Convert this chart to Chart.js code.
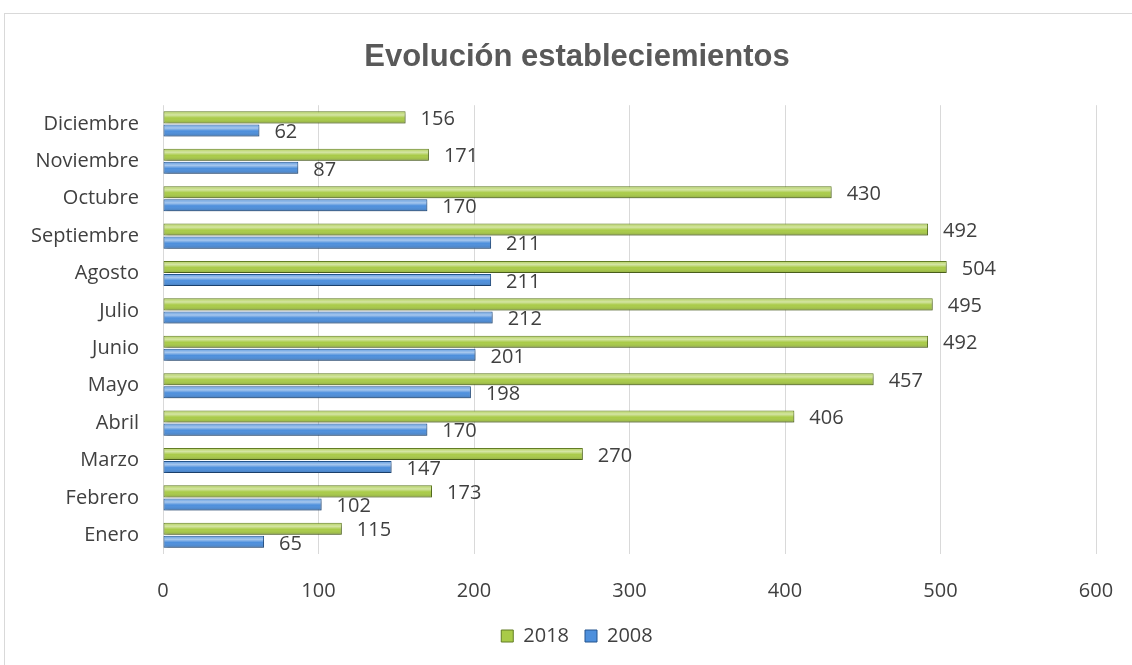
<!DOCTYPE html>
<html>
<head>
<meta charset="utf-8">
<script src="https://cdn.jsdelivr.net/npm/chart.js@4/dist/chart.umd.min.js"></script>
<style>
  html, body { margin: 0; padding: 0; background: #fff; overflow: hidden; }
  #frame { position: absolute; left: 4px; top: 13px; width: 1140px; height: 700px; border: 1px solid #d9d9d9; }
  #chart { position: absolute; left: 0; top: 0; }
</style>
</head>
<body>
<div id="frame"></div>
<canvas id="chart" width="1132" height="665"></canvas>
<script>
const months = ["Enero", "Febrero", "Marzo", "Abril", "Mayo", "Junio", "Julio", "Agosto", "Septiembre", "Octubre", "Noviembre", "Diciembre"];
const values2018 = [115, 173, 270, 406, 457, 492, 495, 504, 492, 430, 171, 156];
const values2008 = [65, 102, 147, 170, 198, 201, 212, 211, 211, 170, 87, 62];
const xTicks = [0, 100, 200, 300, 400, 500, 600];

const textColor = "#404040";
const baseFont = "'Open Sans', sans-serif";

// top of the chart is Diciembre, so feed the library the reversed order
const labels = months.slice().reverse();

const barLook = {
    id: "barLook",
    beforeDatasetsDraw(chart) {
        const { ctx } = chart;
        ctx.save();
        ctx.shadowColor = "rgba(0,0,0,0.35)";
        ctx.shadowBlur = 3;
        ctx.shadowOffsetX = 1;
        ctx.shadowOffsetY = 2;
    },
    afterDatasetsDraw(chart) {
        const { ctx } = chart;
        ctx.restore();
        ctx.save();
        chart.data.datasets.forEach((ds, i) => {
            const meta = chart.getDatasetMeta(i);
            meta.data.forEach((bar, j) => {
                // bevel shine
                const h = bar.height;
                const top = bar.y - h / 2;
                const g = ctx.createLinearGradient(0, top, 0, top + h);
                g.addColorStop(0, "rgba(255,255,255,0.1)");
                g.addColorStop(0.3, "rgba(255,255,255,0.5)");
                g.addColorStop(0.55, "rgba(255,255,255,0)");
                g.addColorStop(1, "rgba(0,0,0,0.18)");
                ctx.fillStyle = g;
                ctx.fillRect(bar.base + 1, top + 1, bar.x - bar.base - 2, h - 2);

                ctx.fillStyle = textColor;
                ctx.font = "20px " + baseFont;
                ctx.textAlign = "left";
                ctx.textBaseline = "middle";
                ctx.fillText(ds.data[j], bar.x + 15, bar.y + 2);
            });
        });
        ctx.restore();
    }
};

new Chart(document.getElementById("chart").getContext("2d"), {
    type: "bar",
    data: {
        labels: labels,
        datasets: [
            { label: "2018", data: values2018.slice().reverse(), backgroundColor: "#a9cb48", borderColor: "#627d24", borderWidth: 1, borderSkipped: false, categoryPercentage: 0.7, barPercentage: 0.92 },
            { label: "2008", data: values2008.slice().reverse(), backgroundColor: "#4d8fdc", borderColor: "#24558f", borderWidth: 1, borderSkipped: false, categoryPercentage: 0.7, barPercentage: 0.92 }
        ]
    },
    options: {
        indexAxis: "y",
        responsive: false,
        animation: false,
        layout: { padding: { left: 22, right: 0, top: 0, bottom: 9 } },
        scales: {
            x: {
                min: 0, max: 600,
                afterBuildTicks(axis) { axis.ticks = xTicks.map(v => ({ value: v })); },
                afterFit(axis) { axis.height = 56; axis.paddingLeft = 0; axis.paddingRight = 36; },
                grid: { color: "#d9d9d9", drawTicks: false },
                border: { display: false },
                ticks: { color: textColor, font: { family: baseFont, size: 20 }, padding: 25 }
            },
            y: {
                afterFit(axis) { axis.width = 141; },
                grid: { display: false },
                border: { display: false },
                ticks: { color: textColor, font: { family: baseFont, size: 20 }, padding: 16 }
            }
        },
        plugins: {
            title: {
                display: true,
                text: "Evolución estableciemientos",
                color: "#595959",
                font: { family: "'Liberation Sans', Arial, sans-serif", size: 31, weight: "bold" },
                padding: { top: 39, bottom: 29 }
            },
            legend: {
                position: "bottom",
                labels: { color: textColor, font: { family: baseFont, size: 20 }, boxWidth: 12, boxHeight: 12, padding: 16 }
            },
            tooltip: { enabled: false }
        }
    },
    plugins: [barLook]
});
</script>
</body>
</html>
